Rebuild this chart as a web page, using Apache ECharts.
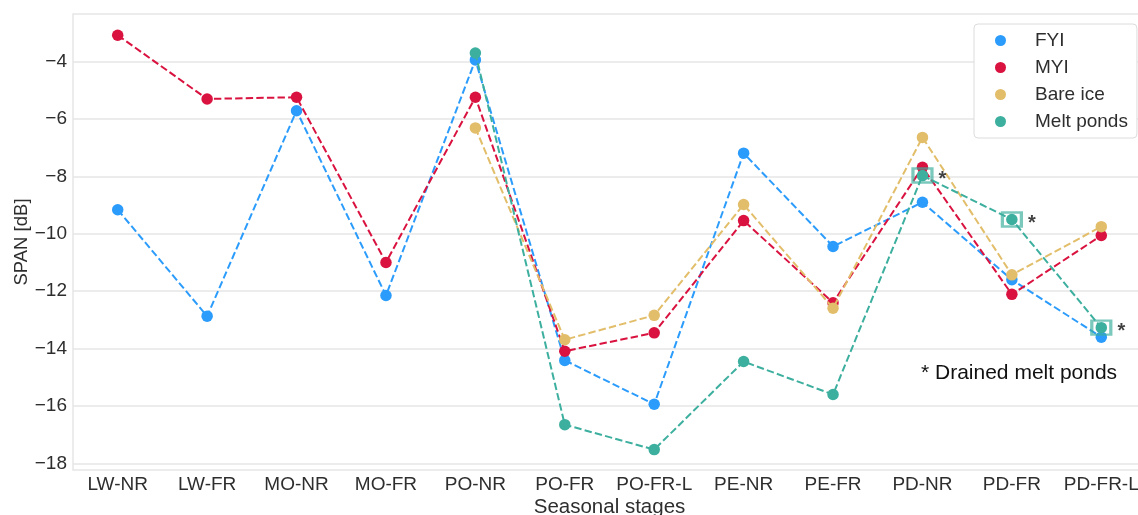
<!DOCTYPE html>
<html>
<head>
<meta charset="utf-8">
<script src="https://cdn.jsdelivr.net/npm/echarts@6/dist/echarts.min.js"></script>
<style>html,body{margin:0;padding:0;background:#fff;}#c{width:1138px;height:515px;}</style>
</head>
<body>
<div id="c"></div>
<script>
const categories = ['LW-NR','LW-FR','MO-NR','MO-FR','PO-NR','PO-FR','PO-FR-L','PE-NR','PE-FR','PD-NR','PD-FR','PD-FR-L'];
const fyi = [-9.16,-12.87,-5.71,-12.15,-3.94,-14.41,-15.94,-7.19,-10.44,-8.90,-11.60,-13.60];
const myi = [-3.08,-5.30,-5.24,-11.00,-5.24,-14.09,-13.45,-9.54,-12.40,-7.68,-12.11,-10.06];
const bareIce = [null,null,null,null,-6.31,-13.69,-12.84,-8.98,-12.59,-6.64,-11.43,-9.75];
const meltPonds = [null,null,null,null,-3.70,-16.65,-17.52,-14.45,-15.60,-7.97,-9.50,-13.27];
const drainedIdx = [9,10,11];
const yTicks = [-18,-16,-14,-12,-10,-8,-6,-4];
const seriesNames = ['FYI','MYI','Bare ice','Melt ponds'];
const colors = ['#2b9cfb','#d9123f','#e2be6a','#3daf9f'];

const font = 'Liberation Sans, Arial, sans-serif';
const chart = echarts.init(document.getElementById('c'), null, {renderer:'canvas'});
const lineSeries = [fyi, myi, bareIce, meltPonds].map((d,i)=>({
  name: seriesNames[i], type:'line', data:d, connectNulls:false,
  symbol:'circle', symbolSize:11.5, color:colors[i],
  itemStyle:{color:colors[i]},
  lineStyle:{color:colors[i], width:2, type:[7.4,3.2]},
  emphasis:{disabled:true}, animation:false, z:2+i
}));
const squares = {
  name:'drained', type:'scatter', symbol:'rect', symbolSize:[19,14],
  data: drainedIdx.map(i=>[i, meltPonds[i]]),
  itemStyle:{color:'rgba(0,0,0,0)', borderColor:'rgba(61,175,159,0.85)', borderWidth:2.8},
  label:{show:true, position:'right', distance:5, formatter:'*', color:'#111', fontSize:20, fontWeight:'bold', fontFamily:font, offset:[0,4]},
  z:10, animation:false, silent:true
};
chart.setOption({
  animation:false,
  backgroundColor:'#fff',
  grid:{left:73, top:14, width:1073, height:456, outerBoundsMode:'none', containLabel:false,
    show:true, borderColor:'#e6e6e6', borderWidth:1.5, backgroundColor:'#fff'},
  legend:{
    data: seriesNames, left:974, top:24, orient:'vertical', icon:'circle',
    itemWidth:11, itemHeight:11, itemGap:8,
    padding:[7,9,7,21], borderColor:'#dcdcdc', borderWidth:1, borderRadius:4, backgroundColor:'#fff',
    textStyle:{fontSize:19, fontFamily:font, color:'#2e2e2e', padding:[0,0,0,24], lineHeight:18}
  },
  xAxis:{
    type:'category', data:categories, boundaryGap:true,
    name:'Seasonal stages', nameLocation:'middle', nameGap:27, nameMoveOverlap:false,
    nameTextStyle:{fontSize:20.5, fontFamily:font, color:'#2e2e2e'},
    axisLine:{show:false}, axisTick:{show:false},
    axisLabel:{fontSize:19, fontFamily:font, color:'#2e2e2e', margin:5, interval:0},
    splitLine:{show:false}
  },
  yAxis:{
    type:'value', min:-18.23, max:-2.34,
    name:'SPAN [dB]', nameLocation:'middle', nameGap:42, nameMoveOverlap:false,
    nameTextStyle:{fontSize:18.5, fontFamily:font, color:'#2e2e2e'},
    axisLine:{show:false},
    axisTick:{show:false, customValues:yTicks},
    axisLabel:{customValues:yTicks, fontSize:19, fontFamily:font, color:'#2e2e2e', margin:6,
      formatter:v=>String(v).replace('-', '\u2212')},
    splitLine:{show:true, lineStyle:{color:'#e6e6e6', width:1.5}}
  },
  graphic:[{type:'text', left:921, top:363, style:{text:'* Drained melt ponds', font:'21px Liberation Sans, Arial, sans-serif', fill:'#111'}}],
  series: lineSeries.concat([squares])
});
</script>
</body>
</html>
